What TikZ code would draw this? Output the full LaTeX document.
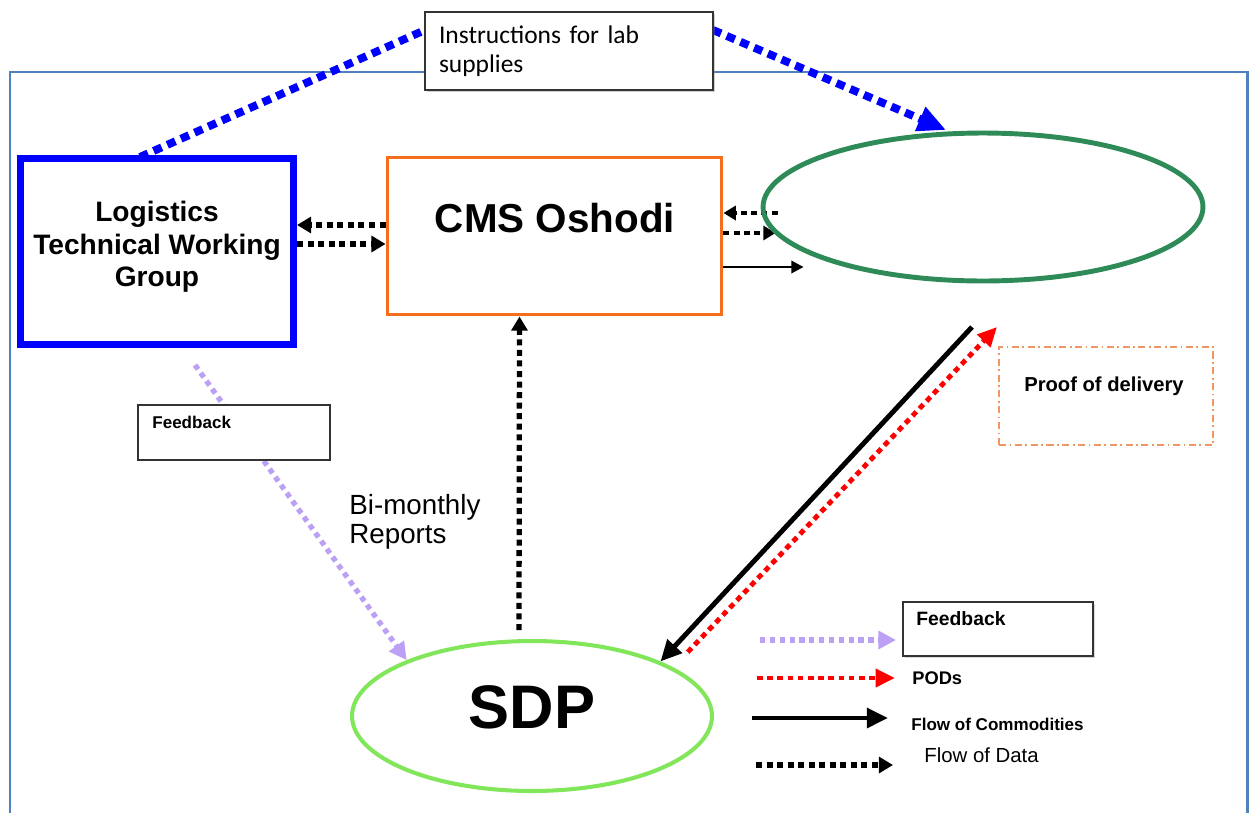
\documentclass[tikz,border=0pt]{standalone}
\usepackage{fontspec}
\setmainfont{Liberation Sans}
\newfontfamily\calibri{Carlito}
\usetikzlibrary{arrows.meta,shapes.geometric,calc,backgrounds,shadows}
\definecolor{framecol}{RGB}{79,129,189}
\definecolor{cmsorange}{RGB}{245,110,30}
\definecolor{podorange}{RGB}{240,150,100}
\definecolor{darkgreen}{RGB}{46,139,87}
\definecolor{lightgreen}{RGB}{130,230,90}
\definecolor{lavender}{RGB}{188,160,245}
\begin{document}
\begin{tikzpicture}[x=0.02cm,y=-0.02cm,
  box/.style={draw=black!80, line width=0.9pt, fill=white, inner sep=0pt, outer sep=0pt},
  data/.style={black, line width=3pt, dash pattern=on 3.4pt off 2.6pt, -{Triangle[length=8pt,width=9pt]}},
  smalldata/.style={black, line width=2.6pt, dash pattern=on 3.4pt off 2.4pt, -{Triangle[length=7pt,width=8pt]}},
  commod/.style={black, line width=2.8pt, -{Triangle[length=12pt,width=11pt]}},
  smallcommod/.style={black, line width=1.5pt, -{Triangle[length=7pt,width=7pt]}},
  podline/.style={red, line width=2.8pt, dash pattern=on 3.2pt off 2.6pt, -{Triangle[length=11pt,width=10pt]}},
  fbline/.style={lavender, line width=3pt, dash pattern=on 3pt off 2.6pt, -{Triangle[length=10pt,width=10pt]}},
  instrline/.style={blue, line width=4.5pt, dash pattern=on 5pt off 3.5pt},
  lbl/.style={inner sep=0pt, anchor=west}
]
\useasboundingbox (0,0) rectangle (1250,812);

% ---------- nodes ----------
\node[box, minimum width=5.76cm, minimum height=1.56cm, align=left, text width=5.2cm,
      font=\calibri\fontsize{14.5}{16.5}\selectfont,
      drop shadow={shadow xshift=1.2pt, shadow yshift=-1.2pt, opacity=0.35}] (instr) at (569,51) {Instructions for lab\\supplies\\[4pt]};

\node[draw=blue, line width=4pt, fill=white, minimum width=5.46cm, minimum height=3.72cm, inner sep=0pt] (ltwg) at (157,251.5) {};
\node[font=\bfseries\fontsize{16}{18.5}\selectfont, align=center, inner sep=0pt] (ltwgtext) at (157,247) {Logistics\\Technical Working\\Group};

\node[draw=cmsorange, line width=1.7pt, fill=white, minimum width=6.7cm, minimum height=3.16cm, inner sep=0pt] (cms) at (554.5,236) {};
\node[font=\bfseries\fontsize{23}{27}\selectfont, inner sep=0pt] (cmstext) at (555,218) {CMS Oshodi};

\node[ellipse, draw=darkgreen, line width=2.8pt, minimum width=8.8cm, minimum height=2.96cm, inner sep=0pt] (green) at (983,207) {};

\node[ellipse, draw=lightgreen, line width=2.3pt, minimum width=7.2cm, minimum height=3.0cm, inner sep=0pt] (sdp) at (532,716) {};
\node[font=\bfseries\fontsize{35}{40}\selectfont, inner sep=0pt] (sdptext) at (532,707) {SDP};

\node[box, minimum width=3.84cm, minimum height=1.1cm] (fb1) at (234,432.5) {};
\node[lbl, font=\bfseries\fontsize{9.7}{11}\selectfont] (fb1text) at ($(fb1.north west)+(14,17)$) {Feedback};

\node[font=\fontsize{15.8}{16.8}\selectfont, align=left, anchor=west, inner sep=0pt] (bimonthly) at (349,522) {Bi-monthly\\Reports};

\node[draw=podorange, line width=0.8pt, dash pattern=on 4pt off 2pt on 1pt off 2pt, minimum width=4.28cm, minimum height=1.96cm, inner sep=0pt] (pod) at (1106,396) {};
\node[font=\bfseries\fontsize{11.5}{13}\selectfont, inner sep=0pt] (podtext) at ($(pod.center)+(-2,-10)$) {Proof of delivery};

\node[box, minimum width=3.8cm, minimum height=1.08cm,
      drop shadow={shadow xshift=1pt, shadow yshift=-1pt, opacity=0.3}] (legfb) at (998,629) {};
\node[lbl, font=\bfseries\fontsize{11}{12}\selectfont] (legfbtext) at ($(legfb.north west)+(13,17)$) {Feedback};
\node[lbl, font=\bfseries\fontsize{10.4}{12}\selectfont] (podslbl) at (912,678) {PODs};
\node[lbl, font=\bfseries\fontsize{9.7}{11}\selectfont] (commodlbl) at (911,724) {Flow of Commodities};
\node[lbl, font=\fontsize{11.6}{13}\selectfont] (datalbl) at (924,755) {Flow of Data};

% ---------- free-end coordinates ----------
\coordinate (bluetip) at (946,130);
\coordinate (commodend) at ($(green.west)+(43,60)$);
\coordinate (comtop) at (972,327);
\coordinate (podtip) at (997,327);
\coordinate (lfbA) at (760,640);  \coordinate (lfbB) at (896,640);
\coordinate (lpodA) at (757,678); \coordinate (lpodB) at (895,678);
\coordinate (lcomA) at (752,718); \coordinate (lcomB) at (888,718);
\coordinate (ldatA) at (756,765); \coordinate (ldatB) at (893,765);

% ---------- connectors (behind the boxes) ----------
\begin{scope}[on background layer]
  \fill[white] (0,0) rectangle (1250,812);
  \draw[framecol, line width=1.7pt] (10,820) -- (10,72) -- (1247,72) -- (1247,820);

  % instructions for lab supplies
  \draw[instrline] ($(ltwg.north west)+(123,2)$) -- ($(instr.west)+(0,-21)$);
  \draw[instrline, -{Triangle[length=16pt,width=14pt]}] ($(instr.east)+(0,-21)$) -- (bluetip);

  % LTWG <-> CMS
  \path ($(cms.west)+(0,-11)$) coordinate (p1) ($(cms.west)+(0,8)$) coordinate (p2);
  \draw[data] (p1) -- (p1 -| ltwg.east);
  \draw[data] (p2 -| ltwg.east) -- (p2);

  % CMS <-> green ellipse
  \path ($(cms.east)+(0,-23)$) coordinate (p3) ($(cms.east)+(0,-3)$) coordinate (p4) ($(cms.east)+(0,31)$) coordinate (p5);
  \draw[smalldata] ($(green.west)+(17,6)$) -- (p3);
  \draw[smalldata] (p4) -- ($(green.west)+(15,26)$);
  \draw[smallcommod] (p5) -- (commodend);

  % SDP -> CMS (bi-monthly reports)
  \draw[data] ($(sdp.north)+(-13,-9)$) -- ($(cms.south)+(-35,0)$);

  % LTWG -> SDP feedback
  \draw[fbline] ($(ltwg.south)+(38,17)$) -- (sdp.156);

  % commodities and PODs
  \draw[commod] (comtop) -- (sdp.23);
  \draw[podline, shorten <=12pt] (sdp.19) -- (podtip);

  % legend
  \draw[fbline] (lfbA) -- (lfbB);
  \draw[podline] (lpodA) -- (lpodB);
  \draw[commod] (lcomA) -- (lcomB);
  \draw[data] (ldatA) -- (ldatB);
\end{scope}
\end{tikzpicture}
\end{document}
